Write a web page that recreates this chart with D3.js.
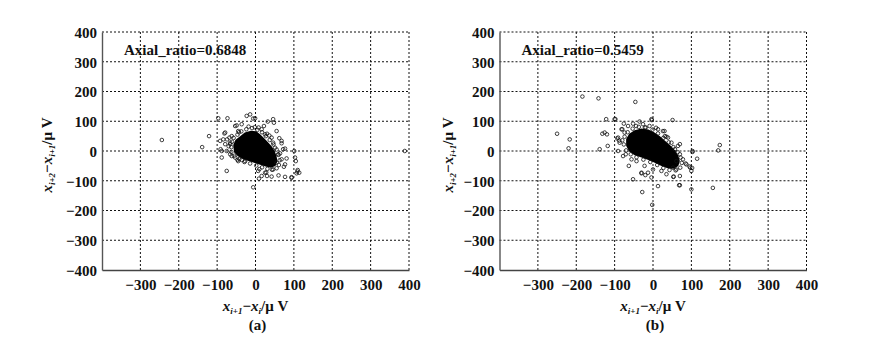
<!DOCTYPE html>
<html>
<head>
<meta charset="utf-8">
<script src="https://cdn.jsdelivr.net/npm/d3@7"></script>
<style>
  body { margin: 0; background: #fff; }
  svg { display: block; }
  .tick text { font-family: "Liberation Serif", serif; font-weight: bold; font-size: 15px; fill: #111; }
  .lbl { font-family: "Liberation Serif", serif; font-weight: bold; fill: #111; }
</style>
</head>
<body>
<svg id="chart" width="877" height="346"></svg>
<script>
// tick values shared by both panels
const tickValues = [-400, -300, -200, -100, 0, 100, 200, 300, 400];
const xTickValues = [-300, -200, -100, 0, 100, 200, 300, 400];

// panel (a): outline of the solid dense core and the visible single circles
const coreA = [
  [-58, 20], [-52, 38], [-40, 50], [-28, 62], [-12, 68], [2, 66], [12, 56], [22, 44],
  [32, 30], [42, 16], [50, 0], [55, -18], [57, -35], [52, -50], [40, -56], [26, -52],
  [12, -46], [-2, -40], [-18, -34], [-32, -28], [-46, -18], [-56, -4]
];
const pointsA = [
  [-244, 37], [-121, 50], [-139, 13], [-97, 110], [-73, 110], [-23, 118], [-14, 123], [-1, 110],
  [32, 99], [46, 107], [55, 67], [68, 34], [72, 6], [101, 0], [103, -22], [105, -34], [77, -45],
  [81, -25], [74, -53], [110, -64], [114, -73], [107, -75], [94, -88], [77, -87], [60, -82],
  [42, -86], [30, -84], [16, -84], [9, -93], [7, -67], [-6, -122], [-75, -67], [-88, -22],
  [-88, 0], [-91, 6], [-92, 34], [-81, 59], [-74, 39], [-66, 28], [-62, -17], [-47, -30],
  [-36, -30], [-27, -34], [-53, -22], [-66, -11], [-75, 0], [-62, 50], [-45, 67], [-53, 84],
  [-49, 86], [-43, 63], [-36, 90], [16, 73], [25, 56], [22, 84], [30, 58], [42, 45], [46, 28],
  [51, 11], [59, -11], [64, -8], [68, -28], [55, -39], [46, -62], [28, -72], [25, -73], [10, -61],
  [-45, -34], [-66, 23], [-79, 23], [-84, 39], [-79, 62], [62, 43], [68, 26], [77, 8], [48, 95],
  [-6, 109], [389, 0], [109, -69], [94, -90],
  // circles crowding the edge of the core
  [-61, 31], [-57, 44], [-47, 55], [-37, 66], [-24, 73], [-9, 77], [5, 71], [17, 63], [27, 50],
  [37, 37], [47, 22], [55, 5], [60, -13], [63, -31], [61, -47], [55, -58], [43, -63], [31, -60],
  [17, -55], [2, -49], [-14, -42], [-29, -37], [-42, -27], [-55, -16], [-63, -3], [-63, 13],
  [-2, 80], [-18, 82], [8, 79], [36, 52], [-70, 16], [-68, 45]
];

// panel (b)
const coreB = [
  [-70, 40], [-62, 58], [-48, 70], [-30, 76], [-12, 72], [4, 62], [18, 50], [32, 34],
  [46, 18], [58, 2], [66, -16], [70, -34], [66, -50], [54, -60], [38, -58], [22, -50],
  [6, -40], [-12, -30], [-30, -22], [-48, -14], [-62, -2], [-70, 18]
];
const pointsB = [
  [-184, 183], [-142, 177], [-46, 165], [-250, 58], [-217, 39], [-220, 9], [-139, 6], [-118, 17],
  [-132, 58], [-120, 56], [-122, 107], [-98, 107], [-100, 107], [-76, 92], [-52, 92], [-35, 99],
  [-4, 107], [-3, 104], [51, 104], [13, 73], [26, 67], [30, 67], [39, 45], [48, 28], [65, 17],
  [70, 23], [70, -11], [103, -3], [103, 0], [115, -26], [87, -45], [85, -42], [97, -56], [95, -52],
  [100, -67], [102, -57], [78, -28], [61, -62], [70, -84], [70, -115], [54, -86], [53, -87],
  [35, -78], [13, -118], [-4, -89], [-28, -138], [-2, -181], [-52, -95], [-30, -73], [-13, -73],
  [-20, -81], [-30, -75], [-63, -50], [-78, -17], [-91, 0], [-91, 45], [-87, 28], [-93, 42],
  [-88, 35], [-80, 73], [-74, 62], [-65, 84], [-26, 90], [-9, 84], [-21, 79], [31, 50], [35, 48],
  [57, 6], [61, -34], [52, -56], [22, -67], [0, -62], [-22, -50], [-43, -34], [-56, -28],
  [-71, -11], [-126, 62], [170, 2], [174, 20], [156, -124], [100, -129], [68, -115], [-82, 73],
  // circles crowding the edge of the core
  [-74, 48], [-66, 63], [-53, 75], [-37, 81], [-19, 79], [-1, 72], [13, 59], [27, 44], [41, 29],
  [53, 13], [64, -4], [72, -22], [75, -40], [71, -56], [59, -65], [43, -64], [27, -57], [11, -47],
  [-7, -37], [-25, -29], [-43, -21], [-58, -11], [-70, 2], [-76, 22], [-80, 36], [8, 78], [-44, 84]
];

const panels = [
  { core: coreA, points: pointsA, ratio: 'Axial_ratio=0.6848', tag: '(a)', x0: 102, x1: 409, yt: 52 },
  { core: coreB, points: pointsB, ratio: 'Axial_ratio=0.5459', tag: '(b)', x0: 499.5, x1: 806.5, yt: 453 }
];

const svg = d3.select('#chart');
const fmt = d => d < 0 ? '\u2212' + Math.abs(d) : String(d);

panels.forEach(p => {
  const x = d3.scaleLinear().domain([-400, 400]).range([p.x0, p.x1]);
  const y = d3.scaleLinear().domain([-400, 400]).range([270, 32]);
  const g = svg.append('g');

  // dashed grid
  g.append('g').selectAll('line')
    .data(tickValues.filter(t => t > -400))
    .enter().append('line')
    .attr('x1', d => x(d)).attr('x2', d => x(d))
    .attr('y1', y(-400)).attr('y2', y(400))
    .attr('stroke', '#111').attr('stroke-width', 1).attr('stroke-dasharray', '2,2');
  g.append('g').selectAll('line')
    .data(tickValues.filter(t => t > -400))
    .enter().append('line')
    .attr('x1', x(-400)).attr('x2', x(400))
    .attr('y1', d => y(d)).attr('y2', d => y(d))
    .attr('stroke', '#111').attr('stroke-width', 1).attr('stroke-dasharray', '2,2');

  // axes
  const ax = g.append('g').attr('transform', `translate(0,${y(-400)})`)
    .call(d3.axisBottom(x).tickValues(xTickValues).tickSize(0).tickPadding(9).tickFormat(fmt));
  ax.select('.domain').attr('stroke', '#444').attr('stroke-width', 1.4);
  const ay = g.append('g').attr('transform', `translate(${x(-400)},0)`)
    .call(d3.axisLeft(y).tickValues(tickValues).tickSize(0).tickPadding(5).tickFormat(fmt));
  ay.select('.domain').attr('stroke', '#555').attr('stroke-width', 1.4);
  ay.selectAll('.tick text').attr('dy', '0.36em');

  // dense core
  g.append('path')
    .datum(p.core)
    .attr('d', d3.line().x(d => x(d[0])).y(d => y(d[1])).curve(d3.curveLinearClosed))
    .attr('fill', '#000');

  // circles
  g.append('g').selectAll('circle')
    .data(p.points)
    .enter().append('circle')
    .attr('cx', d => x(d[0])).attr('cy', d => y(d[1]))
    .attr('r', 1.8)
    .attr('fill', 'none').attr('stroke', '#111').attr('stroke-width', 0.8);

  // annotation
  g.append('text').attr('class', 'lbl')
    .attr('x', x(-400) + 22).attr('y', 55)
    .style('font-size', '15px')
    .text(p.ratio);

  // x axis title
  const cx = x(0);
  const xt = g.append('text').attr('class', 'lbl')
    .attr('x', cx).attr('y', 311).attr('text-anchor', 'middle').style('font-size', '15px');
  xt.append('tspan').style('font-style', 'italic').text('x');
  xt.append('tspan').style('font-style', 'italic').style('font-size', '9px').attr('dy', 3).text('i+1');
  xt.append('tspan').attr('dy', -3).text('\u2212');
  xt.append('tspan').style('font-style', 'italic').text('x');
  xt.append('tspan').style('font-style', 'italic').style('font-size', '9px').attr('dy', 3).text('i');
  xt.append('tspan').attr('dy', -3).text('/\u03bc V');

  g.append('text').attr('class', 'lbl')
    .attr('x', cx + 2).attr('y', 330).attr('text-anchor', 'middle').style('font-size', '15px')
    .text(p.tag);

  // y axis title
  const yt = g.append('text').attr('class', 'lbl')
    .attr('transform', `translate(${p.yt},155) rotate(-90)`)
    .attr('text-anchor', 'middle').style('font-size', '15px');
  yt.append('tspan').style('font-style', 'italic').text('x');
  yt.append('tspan').style('font-style', 'italic').style('font-size', '9px').attr('dy', 3).text('i+2');
  yt.append('tspan').attr('dy', -3).text('\u2212');
  yt.append('tspan').style('font-style', 'italic').text('x');
  yt.append('tspan').style('font-style', 'italic').style('font-size', '9px').attr('dy', 3).text('i+1');
  yt.append('tspan').attr('dy', -3).text('/\u03bc V');
});
</script>
</body>
</html>
